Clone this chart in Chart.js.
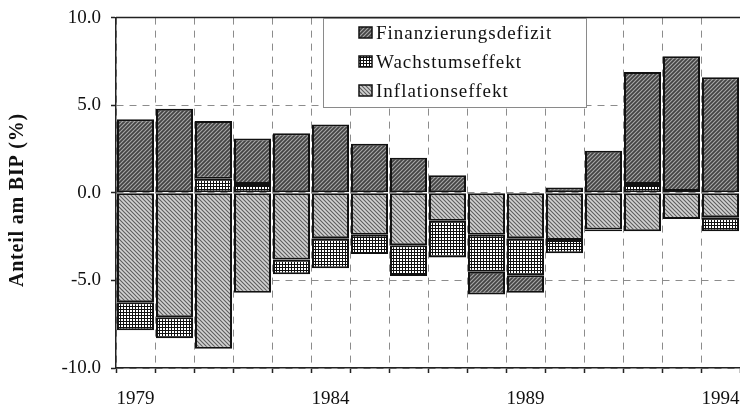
<!DOCTYPE html>
<html>
<head>
<meta charset="utf-8">
<script src="https://cdn.jsdelivr.net/npm/chart.js@4/dist/chart.umd.min.js"></script>
<style>
  body { margin: 0; background: #fff; }
</style>
</head>
<body>
<canvas id="myChart" width="740" height="408"></canvas>
<script>
var years = ["1979", "1980", "1981", "1982", "1983", "1984", "1985", "1986",
             "1987", "1988", "1989", "1990", "1991", "1992", "1993", "1994"];
var finanzierung = [4.2, 4.8, 3.3, 2.6, 3.4, 3.9, 2.8, 2.0, 1.0, -1.3, -1.0, 0.3, 2.4, 6.4, 7.7, 6.6];
var wachstum = [-1.6, -1.2, 0.8, 0.5, -0.85, -1.7, -1.1, -1.75, -2.1, -2.1, -2.1, -0.75, -0.1, 0.5, 0.1, -0.8];
var inflation = [-6.25, -7.1, -8.9, -5.7, -3.8, -2.6, -2.4, -3.0, -1.6, -2.4, -2.6, -2.7, -2.1, -2.2, -1.5, -1.4];
var yTicks = [-10, -5, 0, 5, 10];
var yTitle = "Anteil am BIP (%)";

Chart.defaults.font.family = '"Liberation Serif", "Times New Roman", serif';

// small tiles for the hatch fills
function makePattern(kind) {
  var t = document.createElement("canvas");
  var c = t.getContext("2d");
  if (kind === "grid") {
    t.width = 3; t.height = 3;
    c.fillStyle = "#fff";
    c.fillRect(0, 0, 3, 3);
    c.fillStyle = "#111";
    c.fillRect(0, 0, 3, 1);
    c.fillRect(0, 0, 1, 3);
  } else {
    t.width = 4; t.height = 4;
    c.fillStyle = kind === "dark" ? "#434343" : "#d2d2d2";
    c.fillRect(0, 0, 4, 4);
    c.strokeStyle = kind === "dark" ? "#a8a8a8" : "#5e5e5e";
    c.lineWidth = 1.1;
    c.beginPath();
    if (kind === "dark") {
      c.moveTo(-1, 5); c.lineTo(5, -1);
      c.moveTo(-1, 1); c.lineTo(1, -1);
      c.moveTo(3, 5); c.lineTo(5, 3);
    } else {
      c.moveTo(-1, -1); c.lineTo(5, 5);
      c.moveTo(3, -1); c.lineTo(5, 1);
      c.moveTo(-1, 3); c.lineTo(1, 5);
    }
    c.stroke();
  }
  return document.getElementById("myChart").getContext("2d").createPattern(t, "repeat");
}

var patF = makePattern("dark");
var patW = makePattern("grid");
var patI = makePattern("light");

// legend in a framed box, top frame line, y title
var boxLegend = {
  id: "boxLegend",
  afterDraw: function(chart) {
    var c = chart.ctx, a = chart.chartArea;
    c.save();
    c.strokeStyle = "#222";
    c.lineWidth = 1.5;
    c.beginPath();
    c.moveTo(a.left, a.top);
    c.lineTo(a.right, a.top);
    c.stroke();

    c.fillStyle = "#fff";
    c.fillRect(323, 18, 263, 89);
    c.strokeStyle = "#8a8a8a";
    c.lineWidth = 1;
    c.strokeRect(323.5, 18.5, 263, 89);

    var items = [chart.data.datasets[2], chart.data.datasets[1], chart.data.datasets[0]];
    c.font = '19px "Liberation Serif", serif';
    c.letterSpacing = "1px";
    c.textBaseline = "alphabetic";
    for (var i = 0; i < items.length; i++) {
      var base = 39 + i * 29;
      c.fillStyle = items[i].backgroundColor;
      c.fillRect(359, base - 12, 13, 11);
      c.strokeStyle = "#111";
      c.lineWidth = 1.5;
      c.strokeRect(359, base - 12, 13, 11);
      c.fillStyle = "#111";
      c.fillText(items[i].label, 376, base);
    }

    c.translate(23, 200);
    c.rotate(-Math.PI / 2);
    c.font = 'bold 20px "Liberation Serif", serif';
    c.letterSpacing = "0.8px";
    c.textAlign = "center";
    c.fillText(yTitle, 0, 0);
    c.restore();
  }
};

var barStyle = {
  borderColor: "#111",
  borderWidth: 2,
  borderSkipped: false,
  barPercentage: 0.95,
  categoryPercentage: 1.0
};

var chart = new Chart(document.getElementById("myChart"), {
  type: "bar",
  data: {
    labels: years,
    datasets: [
      Object.assign({ label: "Inflationseffekt", data: inflation, backgroundColor: patI }, barStyle),
      Object.assign({ label: "Wachstumseffekt", data: wachstum, backgroundColor: patW }, barStyle),
      Object.assign({ label: "Finanzierungsdefizit", data: finanzierung, backgroundColor: patF }, barStyle)
    ]
  },
  options: {
    responsive: false,
    animation: false,
    devicePixelRatio: 1,
    layout: { padding: { top: 16, left: 0, right: 0, bottom: 0 } },
    plugins: {
      legend: { display: false },
      tooltip: { enabled: false }
    },
    scales: {
      x: {
        stacked: true,
        offset: true,
        grid: { offset: true, color: "#8c8c8c", lineWidth: 1, tickLength: 5, tickColor: "#222", tickWidth: 1.5 },
        border: { color: "#222", width: 1.5, dash: [7, 6] },
        ticks: {
          autoSkip: false,
          maxRotation: 0,
          padding: 0,
          color: "#111",
          font: { size: 19, lineHeight: 2.7 },
          callback: function(v, i) { return i % 5 === 0 ? years[i] : ""; }
        },
        afterFit: function(s) { s.height = 40; }
      },
      y: {
        stacked: true,
        min: yTicks[0],
        max: yTicks[yTicks.length - 1],
        afterBuildTicks: function(s) { s.ticks = yTicks.map(function(v) { return { value: v }; }); },
        grid: { color: "#8c8c8c", lineWidth: 1, tickLength: 5, tickColor: "#222", tickWidth: 1.5 },
        border: { color: "#222", width: 1.5, dash: [7, 6] },
        ticks: {
          padding: 10,
          color: "#111",
          font: { size: 19, lineHeight: 0.8 },
          callback: function(v) { return Number(v).toFixed(1); }
        },
        afterFit: function(s) { s.width = 116; }
      }
    }
  },
  plugins: [boxLegend]
});
</script>
</body>
</html>
